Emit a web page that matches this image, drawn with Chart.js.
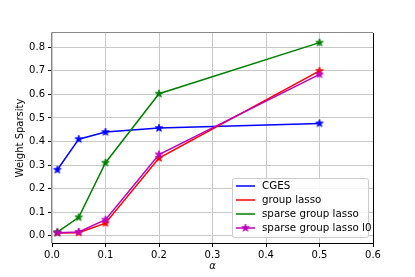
<!DOCTYPE html>
<html>
<head>
<meta charset="utf-8">
<script src="https://cdn.jsdelivr.net/npm/chart.js@4/dist/chart.umd.min.js"></script>
<style>
  html, body { margin: 0; padding: 0; background: #fff; }
  #wrap { width: 415px; height: 277px; }
</style>
</head>
<body>
<div id="wrap"><canvas id="sparsityChart" width="415" height="277"></canvas></div>
<script>
// alpha values on the x axis
const alphas = [0.01, 0.05, 0.1, 0.2, 0.5];

// weight sparsity per method
const cges = [0.28, 0.41, 0.44, 0.457, 0.477];
const groupLasso = [0.012, 0.013, 0.053, 0.33, 0.70];
const sparseGroupLasso = [0.015, 0.078, 0.31, 0.603, 0.82];
const sparseGroupLassoL0 = [0.013, 0.016, 0.068, 0.345, 0.685];

const seriesNames = ["CGES", "group lasso", "sparse group lasso", "sparse group lasso l0"];
const xTicks = [0.0, 0.1, 0.2, 0.3, 0.4, 0.5, 0.6];
const yTicks = [0.0, 0.1, 0.2, 0.3, 0.4, 0.5, 0.6, 0.7, 0.8];

const FONT = "DejaVu Sans";

// filled five point star, like matplotlib's '*'
function starImage(color, r) {
    let c = document.createElement("canvas");
    let s = Math.ceil(r * 2 + 2);
    c.width = s; c.height = s;
    let g = c.getContext("2d");
    g.translate(s / 2, s / 2);
    g.beginPath();
    for (let i = 0; i < 10; i++) {
        let rad = i % 2 === 0 ? r : r * 0.42;
        let a = -Math.PI / 2 + i * Math.PI / 5;
        let px = Math.cos(a) * rad, py = Math.sin(a) * rad;
        if (i === 0) g.moveTo(px, py); else g.lineTo(px, py);
    }
    g.closePath();
    g.fillStyle = color;
    g.fill();
    g.lineWidth = 0.8;
    g.strokeStyle = color;
    g.stroke();
    return c;
}

function toPoints(ys) {
    return ys.map((y, i) => ({ x: alphas[i], y: y }));
}

const colors = ["#0000ff", "#ff0000", "#008000", "#bf00bf"];
const values = [cges, groupLasso, sparseGroupLasso, sparseGroupLassoL0];

const datasets = values.map((v, i) => ({
    label: seriesNames[i],
    data: toPoints(v),
    borderColor: colors[i],
    backgroundColor: colors[i],
    borderWidth: 1.5,
    pointStyle: starImage(colors[i], 4),
    pointRadius: 4,
    fill: false,
    tension: 0,
    order: 4 - i
}));

// matplotlib-like frame and legend box
const framePlugin = {
    id: "frame",
    afterDraw(chart) {
        let ctx = chart.ctx;
        let a = chart.chartArea;
        ctx.save();
        ctx.lineWidth = 1;
        ctx.strokeStyle = "#000";
        ctx.beginPath();
        ctx.moveTo(a.right + 0.5, a.top);
        ctx.lineTo(a.right + 0.5, a.bottom + 0.5);
        ctx.lineTo(a.left, a.bottom + 0.5);
        ctx.stroke();
        ctx.strokeStyle = "#888";
        ctx.beginPath();
        ctx.moveTo(a.left - 0.5, a.bottom);
        ctx.lineTo(a.left - 0.5, a.top - 0.5);
        ctx.lineTo(a.right, a.top - 0.5);
        ctx.stroke();

        // legend
        let bx = 232, by = 178, bw = 136, bh = 59;
        ctx.fillStyle = "rgba(255,255,255,0.85)";
        ctx.strokeStyle = "#cccccc";
        ctx.beginPath();
        ctx.roundRect(bx + 0.5, by + 0.5, bw, bh, 2);
        ctx.fill();
        ctx.stroke();
        ctx.font = "10.3px '" + FONT + "'";
        ctx.textBaseline = "middle";
        seriesNames.forEach((name, i) => {
            let y = 186 + i * 14;
            ctx.strokeStyle = colors[i];
            ctx.lineWidth = 1.5;
            ctx.beginPath();
            ctx.moveTo(236, y);
            ctx.lineTo(255, y);
            ctx.stroke();
            if (i === 3) {
                let img = datasets[i].pointStyle;
                ctx.drawImage(img, 245.5 - img.width / 2, y - img.height / 2);
            }
            ctx.fillStyle = "#000";
            ctx.fillText(name, 262, y + 0.5);
        });
        ctx.restore();
    }
};

new Chart(document.getElementById("sparsityChart"), {
    type: "line",
    data: { datasets: datasets },
    options: {
        responsive: false,
        animation: false,
        devicePixelRatio: 1,
        layout: { padding: { top: 33, right: 42, left: 0, bottom: 0 } },
        plugins: { legend: { display: false }, tooltip: { enabled: false } },
        scales: {
            x: {
                type: "linear",
                min: 0,
                max: 0.6,
                afterBuildTicks: s => { s.ticks = xTicks.map(v => ({ value: v })); },
                afterFit: s => { s.height = 34; },
                grid: { color: "#c8c8c8", lineWidth: 1, tickLength: 4, tickColor: "#000" },
                border: { display: false },
                ticks: {
                    color: "#000",
                    padding: 2,
                    font: { family: FONT, size: 10 },
                    callback: v => v.toFixed(1)
                },
                title: {
                    display: true,
                    text: "α",
                    color: "#000",
                    padding: { top: 0, bottom: 5 },
                    font: { family: FONT, size: 10, style: "italic" }
                }
            },
            y: {
                min: -0.031,
                max: 0.861,
                afterBuildTicks: s => { s.ticks = yTicks.map(v => ({ value: v })); },
                afterFit: s => { s.width = 52; },
                grid: { color: "#c8c8c8", lineWidth: 1, tickLength: 4, tickColor: "#000" },
                border: { display: false },
                ticks: {
                    color: "#000",
                    padding: 3,
                    font: { family: FONT, size: 10 },
                    callback: v => v.toFixed(1)
                },
                title: {
                    display: true,
                    text: "Weight Sparsity",
                    color: "#000",
                    padding: { top: 14, bottom: 0 },
                    font: { family: FONT, size: 10 }
                }
            }
        }
    },
    plugins: [framePlugin]
});
</script>
</body>
</html>
